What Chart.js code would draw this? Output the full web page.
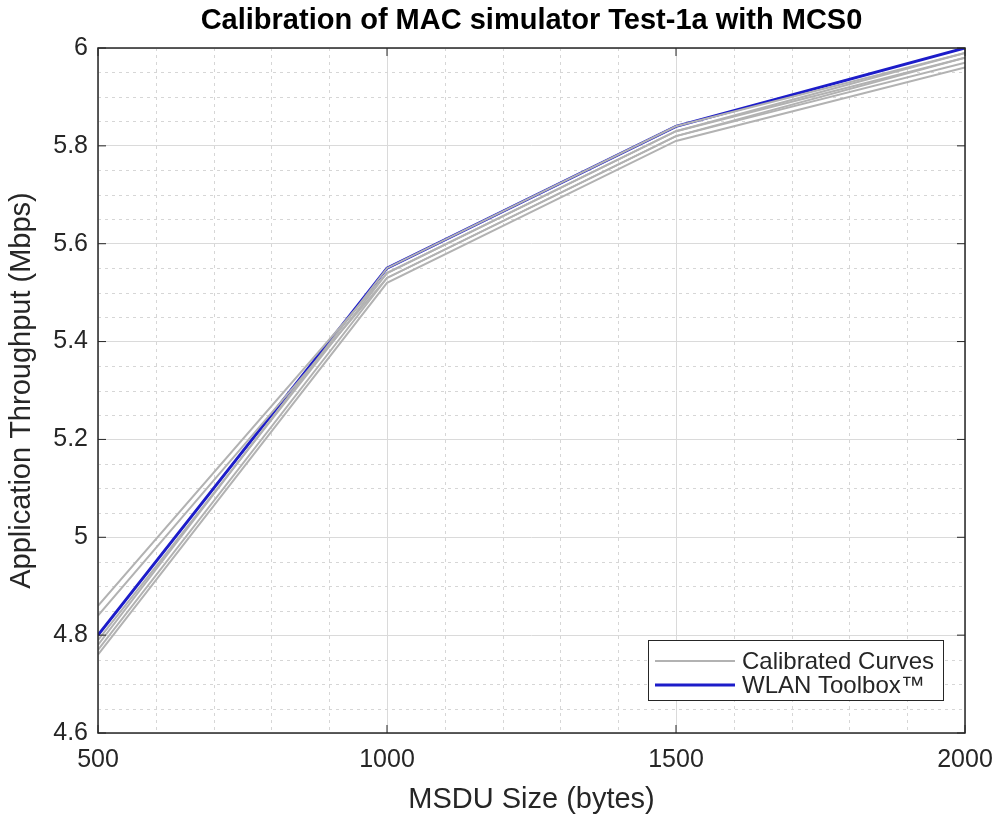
<!DOCTYPE html>
<html>
<head>
<meta charset="utf-8">
<script src="https://cdn.jsdelivr.net/npm/chart.js@4/dist/chart.umd.min.js"></script>
<style>
  html, body { margin: 0; padding: 0; background: #fff; }
  #wrap { width: 997px; height: 819px; }
</style>
</head>
<body>
<div id="wrap"><canvas id="c" width="997" height="819"></canvas></div>
<script>
// msdu sizes (bytes)
const sizes = [500, 1000, 1500, 2000];

// calibrated curves (Mbps)
const calib1 = [4.86, 5.54, 5.83, 5.99];
const calib2 = [4.84, 5.53, 5.82, 5.98];
const calib3 = [4.79, 5.54, 5.83, 5.98];
const calib4 = [4.78, 5.55, 5.84, 5.99];
const calib5 = [4.77, 5.53, 5.82, 5.97];
const calib6 = [4.76, 5.52, 5.81, 5.96];

// WLAN toolbox result
const wlan = [4.80, 5.55, 5.84, 6.00];

const xTicks = [500, 1000, 1500, 2000];
const yTicks = [4.6, 4.8, 5.0, 5.2, 5.4, 5.6, 5.8, 6.0];

const TXT = '#262626';
const FONT = '"Liberation Sans", Arial, Helvetica, sans-serif';
const GRAY = '#b2b2b2';
const BLUE = '#1c1cc9';

const calibSets = [calib1, calib2, calib3, calib4, calib5, calib6].map((d, i) => ({
  label: i === 0 ? 'Calibrated Curves' : '',
  data: d.map((v, j) => ({ x: sizes[j], y: v })),
  borderColor: GRAY,
  borderWidth: 2,
  pointRadius: 0,
  fill: false,
  inLegend: i === 0,
}));

// minor grid, box and inward tick marks
const boxPlugin = {
  id: 'box',
  beforeDatasetsDraw(chart) {
    const { ctx, chartArea: a, scales: { x, y } } = chart;
    ctx.save();
    ctx.strokeStyle = '#d6d6d6';
    ctx.lineWidth = 1;
    ctx.setLineDash([3, 4]);
    for (let v = 600; v < 2000; v += 100) {
      if (v % 500 === 0) continue;
      const px = Math.round(x.getPixelForValue(v)) + 0.5;
      ctx.beginPath(); ctx.moveTo(px, a.top); ctx.lineTo(px, a.bottom); ctx.stroke();
    }
    for (let k = 1; k < 28; k++) {
      if (k % 4 === 0) continue;
      const py = Math.round(y.getPixelForValue(4.6 + k * 0.05)) + 0.5;
      ctx.beginPath(); ctx.moveTo(a.left, py); ctx.lineTo(a.right, py); ctx.stroke();
    }
    ctx.restore();
  },
  afterDatasetsDraw(chart) {
    const { ctx, chartArea: a, scales: { x, y } } = chart;
    ctx.save();
    ctx.strokeStyle = TXT;
    ctx.lineWidth = 1.5;
    ctx.strokeRect(a.left, a.top, a.right - a.left, a.bottom - a.top);
    ctx.lineWidth = 1;
    xTicks.forEach(v => {
      const px = x.getPixelForValue(v);
      ctx.beginPath();
      ctx.moveTo(px, a.bottom); ctx.lineTo(px, a.bottom - 8);
      ctx.moveTo(px, a.top); ctx.lineTo(px, a.top + 8);
      ctx.stroke();
    });
    yTicks.forEach(v => {
      const py = y.getPixelForValue(v);
      ctx.beginPath();
      ctx.moveTo(a.left, py); ctx.lineTo(a.left + 8, py);
      ctx.moveTo(a.right, py); ctx.lineTo(a.right - 8, py);
      ctx.stroke();
    });

    // legend box, bottom right inside the axes
    const items = chart.data.datasets.filter(d => d.inLegend);
    const bw = 295, bh = 60;
    const bx = a.right - 22 - bw, by = a.bottom - 33 - bh;
    ctx.fillStyle = '#fff';
    ctx.fillRect(bx, by, bw, bh);
    ctx.strokeStyle = TXT;
    ctx.lineWidth = 1;
    ctx.strokeRect(bx + 0.5, by + 0.5, bw, bh);
    ctx.font = '24px ' + FONT;
    ctx.textBaseline = 'middle';
    ctx.textAlign = 'left';
    items.forEach((d, i) => {
      const cy = by + 21 + i * 24;
      ctx.strokeStyle = d.borderColor;
      ctx.lineWidth = d.borderWidth;
      ctx.beginPath(); ctx.moveTo(bx + 7, cy); ctx.lineTo(bx + 87, cy); ctx.stroke();
      ctx.fillStyle = TXT;
      ctx.fillText(d.label, bx + 94, cy + 1);
    });
    ctx.restore();
  }
};

new Chart(document.getElementById('c'), {
  type: 'line',
  data: {
    datasets: [
      ...calibSets,
      {
        label: 'WLAN Toolbox™',
        data: wlan.map((v, j) => ({ x: sizes[j], y: v })),
        borderColor: BLUE,
        borderWidth: 3,
        pointRadius: 0,
        fill: false,
        inLegend: true,
      },
    ],
  },
  options: {
    responsive: false,
    animation: false,
    layout: { padding: { top: 0, right: 32, bottom: 0, left: 0 } },
    plugins: {
      legend: { display: false },
      tooltip: { enabled: false },
      title: {
        display: true,
        fullSize: false,
        text: 'Calibration of MAC simulator Test-1a with MCS0',
        color: '#000',
        font: { family: FONT, size: 29, weight: 'bold' },
        padding: { top: 4, bottom: 9.2 },
      },
    },
    scales: {
      x: {
        type: 'linear',
        min: 500,
        max: 2000,
        afterBuildTicks: s => { s.ticks = xTicks.map(v => ({ value: v })); },
        afterFit: s => { s.height = 86; s.paddingLeft = 0; s.paddingRight = 0; },
        ticks: {
          color: TXT,
          font: { family: FONT, size: 25 },
          padding: 12,
          maxRotation: 0,
          callback: v => String(v),
        },
        grid: { color: '#dadada', drawTicks: false },
        border: { display: false },
        title: {
          display: true,
          text: 'MSDU Size (bytes)',
          color: TXT,
          font: { family: FONT, size: 29 },
          padding: { top: 2, bottom: 2 },
        },
      },
      y: {
        type: 'linear',
        min: 4.6,
        max: 6,
        afterBuildTicks: s => { s.ticks = yTicks.map(v => ({ value: v })); },
        afterFit: s => { s.width = 98; s.paddingTop = 0; s.paddingBottom = 0; },
        ticks: {
          color: TXT,
          font: { family: FONT, size: 25 },
          padding: 10,
          callback: v => String(Math.round(v * 10) / 10),
        },
        grid: { color: '#dadada', drawTicks: false },
        border: { display: false },
        title: {
          display: true,
          text: 'Application Throughput (Mbps)',
          color: TXT,
          font: { family: FONT, size: 29 },
          padding: { top: 5, bottom: 2 },
        },
      },
    },
  },
  plugins: [boxPlugin],
});
</script>
</body>
</html>
